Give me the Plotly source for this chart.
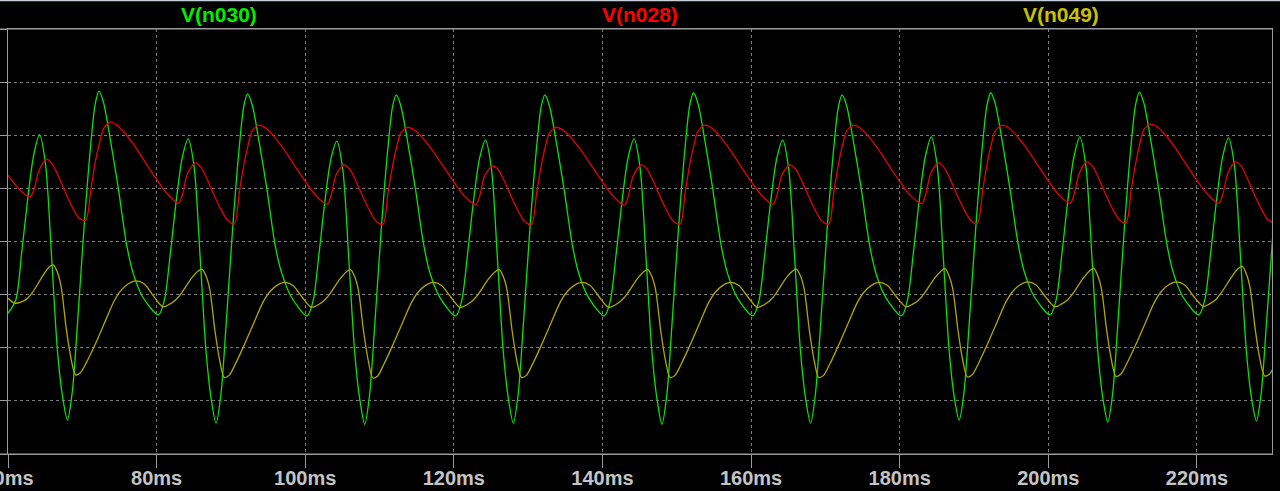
import plotly.graph_objects as go

# ---------------- data (time in ms, value in grid divisions) ----------------
green_t = [
    60.0, 61.05, 61.85, 62.65, 63.45, 64.25, 65.05, 65.85, 66.65, 67.35, 68.0, 68.65, 69.35, 70.25, 71.15, 71.75, 72.25, 72.85, 73.85, 74.85, 75.95, 76.85, 78.15,
    80.25, 81.05, 81.85, 82.65, 83.45, 84.25, 85.05, 85.85, 86.65, 87.35, 88.0, 88.65, 89.35, 90.25, 91.15, 91.75, 92.25, 92.85, 93.85, 94.85, 95.95, 96.85, 98.15,
    100.25, 101.05, 101.85, 102.65, 103.45, 104.25, 105.05, 105.85, 106.65, 107.35, 108.0, 108.65, 109.35, 110.25, 111.15, 111.75, 112.25, 112.85, 113.85, 114.85, 115.95, 116.85, 118.15,
    120.25, 121.05, 121.85, 122.65, 123.45, 124.25, 125.05, 125.85, 126.65, 127.35, 128.0, 128.65, 129.35, 130.25, 131.15, 131.75, 132.25, 132.85, 133.85, 134.85, 135.95, 136.85, 138.15,
    140.25, 141.05, 141.85, 142.65, 143.45, 144.25, 145.05, 145.85, 146.65, 147.35, 148.0, 148.65, 149.35, 150.25, 151.15, 151.75, 152.25, 152.85, 153.85, 154.85, 155.95, 156.85, 158.15,
    160.25, 161.05, 161.85, 162.65, 163.45, 164.25, 165.05, 165.85, 166.65, 167.35, 168.0, 168.65, 169.35, 170.25, 171.15, 171.75, 172.25, 172.85, 173.85, 174.85, 175.95, 176.85, 178.15,
    180.25, 181.05, 181.85, 182.65, 183.45, 184.25, 185.05, 185.85, 186.65, 187.35, 188.0, 188.65, 189.35, 190.25, 191.15, 191.75, 192.25, 192.85, 193.85, 194.85, 195.95, 196.85, 198.15,
    200.25, 201.05, 201.85, 202.65, 203.45, 204.25, 205.05, 205.85, 206.65, 207.35, 208.0, 208.65, 209.35, 210.25, 211.15, 211.75, 212.25, 212.85, 213.85, 214.85, 215.95, 216.85, 218.15,
    220.25, 221.05, 221.85, 222.65, 223.45, 224.25, 225.05, 225.85, 226.65, 227.35, 228.0, 228.65, 229.35, 230.25,
]
green_v = [
    2.65, 2.9, 3.8, 4.8, 5.62, 6.01, 5.45, 3.75, 1.95, 1.07, 0.64, 1.17, 2.45, 4.3, 5.85, 6.6, 6.83, 6.62, 5.85, 5.0, 3.95, 3.4, 2.95,
    2.62, 2.9, 3.78, 4.78, 5.58, 5.93, 5.4, 3.72, 1.93, 1.03, 0.58, 1.12, 2.43, 4.28, 5.82, 6.56, 6.78, 6.58, 5.83, 4.98, 3.93, 3.4, 2.95,
    2.6, 2.88, 3.77, 4.76, 5.55, 5.89, 5.36, 3.7, 1.92, 1.02, 0.56, 1.1, 2.42, 4.27, 5.8, 6.54, 6.76, 6.56, 5.82, 4.97, 3.93, 3.38, 2.94,
    2.6, 2.88, 3.77, 4.77, 5.56, 5.91, 5.38, 3.71, 1.93, 1.03, 0.58, 1.12, 2.43, 4.27, 5.8, 6.54, 6.76, 6.56, 5.82, 4.97, 3.93, 3.38, 2.94,
    2.6, 2.88, 3.78, 4.78, 5.58, 5.93, 5.4, 3.72, 1.93, 1.02, 0.56, 1.1, 2.43, 4.28, 5.82, 6.57, 6.8, 6.6, 5.84, 4.98, 3.94, 3.39, 2.94,
    2.6, 2.88, 3.77, 4.77, 5.56, 5.91, 5.38, 3.71, 1.93, 1.03, 0.58, 1.12, 2.43, 4.27, 5.8, 6.54, 6.76, 6.56, 5.82, 4.97, 3.93, 3.38, 2.94,
    2.6, 2.9, 3.8, 4.8, 5.6, 5.97, 5.42, 3.74, 1.95, 1.06, 0.64, 1.16, 2.45, 4.29, 5.83, 6.57, 6.8, 6.6, 5.84, 4.98, 3.94, 3.39, 2.95,
    2.62, 2.9, 3.8, 4.8, 5.6, 5.97, 5.42, 3.74, 1.94, 1.04, 0.6, 1.13, 2.44, 4.29, 5.84, 6.58, 6.81, 6.61, 5.85, 4.99, 3.95, 3.4, 2.95,
    2.62, 2.9, 3.79, 4.79, 5.59, 5.95, 5.42, 3.73, 1.94, 1.05, 0.62, 1.15, 2.45, 4.2,
]

red_t = [
    60.0, 61.6,
    62.95, 63.5, 64.15, 65.2, 65.95, 66.65, 67.55, 68.45, 69.55, 70.45, 71.15, 71.75, 72.25, 72.85, 73.75, 74.55, 75.35, 76.95, 78.75, 80.45, 81.55,
    82.95, 83.5, 84.15, 85.2, 85.95, 86.65, 87.55, 88.45, 89.55, 90.45, 91.15, 91.75, 92.25, 92.85, 93.75, 94.55, 95.35, 96.95, 98.75, 100.45, 101.55,
    102.95, 103.5, 104.15, 105.2, 105.95, 106.65, 107.55, 108.45, 109.55, 110.45, 111.15, 111.75, 112.25, 112.85, 113.75, 114.55, 115.35, 116.95, 118.75, 120.45, 121.55,
    122.95, 123.5, 124.15, 125.2, 125.95, 126.65, 127.55, 128.45, 129.55, 130.45, 131.15, 131.75, 132.25, 132.85, 133.75, 134.55, 135.35, 136.95, 138.75, 140.45, 141.55,
    142.95, 143.5, 144.15, 145.2, 145.95, 146.65, 147.55, 148.45, 149.55, 150.45, 151.15, 151.75, 152.25, 152.85, 153.75, 154.55, 155.35, 156.95, 158.75, 160.45, 161.55,
    162.95, 163.5, 164.15, 165.2, 165.95, 166.65, 167.55, 168.45, 169.55, 170.45, 171.15, 171.75, 172.25, 172.85, 173.75, 174.55, 175.35, 176.95, 178.75, 180.45, 181.55,
    182.95, 183.5, 184.15, 185.2, 185.95, 186.65, 187.55, 188.45, 189.55, 190.45, 191.15, 191.75, 192.25, 192.85, 193.75, 194.55, 195.35, 196.95, 198.75, 200.45, 201.55,
    202.95, 203.5, 204.15, 205.2, 205.95, 206.65, 207.55, 208.45, 209.55, 210.45, 211.15, 211.75, 212.25, 212.85, 213.75, 214.55, 215.35, 216.95, 218.75, 220.45, 221.55,
    222.95, 223.5, 224.15, 225.2, 225.95, 226.65, 227.55, 228.45, 229.55, 230.45,
]
red_v = [
    5.25, 4.97,
    4.84, 4.98, 5.33, 5.55, 5.46, 5.27, 4.98, 4.7, 4.44, 4.4, 4.98, 5.5, 5.82, 6.12, 6.25, 6.2, 6.1, 5.82, 5.43, 5.08, 4.88,
    4.72, 4.9, 5.28, 5.48, 5.4, 5.22, 4.93, 4.66, 4.4, 4.33, 4.95, 5.45, 5.78, 6.08, 6.19, 6.15, 6.05, 5.77, 5.39, 5.04, 4.85,
    4.7, 4.88, 5.25, 5.44, 5.37, 5.19, 4.91, 4.64, 4.38, 4.32, 4.93, 5.42, 5.75, 6.04, 6.15, 6.11, 6.02, 5.75, 5.38, 5.03, 4.84,
    4.69, 4.87, 5.24, 5.42, 5.36, 5.18, 4.9, 4.63, 4.37, 4.32, 4.93, 5.42, 5.75, 6.04, 6.15, 6.11, 6.02, 5.75, 5.38, 5.03, 4.84,
    4.68, 4.87, 5.24, 5.44, 5.37, 5.19, 4.91, 4.64, 4.38, 4.33, 4.95, 5.45, 5.78, 6.08, 6.19, 6.15, 6.05, 5.77, 5.39, 5.04, 4.85,
    4.7, 4.88, 5.25, 5.44, 5.37, 5.19, 4.91, 4.64, 4.38, 4.33, 4.95, 5.45, 5.78, 6.08, 6.19, 6.15, 6.05, 5.77, 5.39, 5.04, 4.85,
    4.71, 4.89, 5.27, 5.48, 5.4, 5.22, 4.93, 4.66, 4.4, 4.34, 4.95, 5.45, 5.78, 6.08, 6.19, 6.15, 6.05, 5.78, 5.4, 5.05, 4.86,
    4.72, 4.9, 5.28, 5.5, 5.42, 5.23, 4.94, 4.67, 4.41, 4.35, 4.97, 5.47, 5.8, 6.1, 6.21, 6.17, 6.07, 5.79, 5.41, 5.06, 4.87,
    4.72, 4.9, 5.28, 5.5, 5.42, 5.23, 4.94, 4.67, 4.41, 4.35,
]

yellow_t = [
    60.0,
    60.85, 61.75, 62.55, 63.35, 64.65, 65.55, 66.1, 66.65, 67.15, 67.85, 68.45, 69.1, 69.75, 70.55, 71.75, 73.15, 74.25, 75.15, 76.15, 77.25, 78.35, 79.55,
    80.85, 81.75, 82.55, 83.35, 84.65, 85.55, 86.1, 86.65, 87.15, 87.85, 88.45, 89.1, 89.75, 90.55, 91.75, 93.15, 94.25, 95.15, 96.15, 97.25, 98.35, 99.55,
    100.85, 101.75, 102.55, 103.35, 104.65, 105.55, 106.1, 106.65, 107.15, 107.85, 108.45, 109.1, 109.75, 110.55, 111.75, 113.15, 114.25, 115.15, 116.15, 117.25, 118.35, 119.55,
    120.85, 121.75, 122.55, 123.35, 124.65, 125.55, 126.1, 126.65, 127.15, 127.85, 128.45, 129.1, 129.75, 130.55, 131.75, 133.15, 134.25, 135.15, 136.15, 137.25, 138.35, 139.55,
    140.85, 141.75, 142.55, 143.35, 144.65, 145.55, 146.1, 146.65, 147.15, 147.85, 148.45, 149.1, 149.75, 150.55, 151.75, 153.15, 154.25, 155.15, 156.15, 157.25, 158.35, 159.55,
    160.85, 161.75, 162.55, 163.35, 164.65, 165.55, 166.1, 166.65, 167.15, 167.85, 168.45, 169.1, 169.75, 170.55, 171.75, 173.15, 174.25, 175.15, 176.15, 177.25, 178.35, 179.55,
    180.85, 181.75, 182.55, 183.35, 184.65, 185.55, 186.1, 186.65, 187.15, 187.85, 188.45, 189.1, 189.75, 190.55, 191.75, 193.15, 194.25, 195.15, 196.15, 197.25, 198.35, 199.55,
    200.85, 201.75, 202.55, 203.35, 204.65, 205.55, 206.1, 206.65, 207.15, 207.85, 208.45, 209.1, 209.75, 210.55, 211.75, 213.15, 214.25, 215.15, 216.15, 217.25, 218.35, 219.55,
    220.85, 221.75, 222.55, 223.35, 224.65, 225.55, 226.1, 226.65, 227.15, 227.85, 228.45, 229.1, 229.75, 230.55,
]
yellow_v = [
    2.93,
    2.84, 2.86, 2.92, 3.05, 3.35, 3.52, 3.56, 3.42, 3.15, 2.35, 1.82, 1.49, 1.53, 1.72, 2.07, 2.52, 2.87, 3.07, 3.2, 3.26, 3.2, 2.98,
    2.77, 2.82, 2.9, 3.03, 3.3, 3.44, 3.48, 3.35, 3.1, 2.32, 1.79, 1.44, 1.48, 1.68, 2.04, 2.49, 2.84, 3.04, 3.17, 3.23, 3.17, 2.96,
    2.76, 2.81, 2.89, 3.02, 3.29, 3.43, 3.47, 3.34, 3.09, 2.31, 1.78, 1.43, 1.47, 1.68, 2.04, 2.49, 2.84, 3.04, 3.17, 3.23, 3.17, 2.96,
    2.76, 2.81, 2.89, 3.02, 3.29, 3.43, 3.47, 3.34, 3.09, 2.31, 1.78, 1.44, 1.48, 1.68, 2.04, 2.49, 2.84, 3.04, 3.17, 3.23, 3.17, 2.96,
    2.76, 2.81, 2.89, 3.02, 3.29, 3.43, 3.47, 3.34, 3.09, 2.31, 1.78, 1.44, 1.48, 1.68, 2.04, 2.49, 2.84, 3.04, 3.17, 3.23, 3.17, 2.96,
    2.76, 2.81, 2.89, 3.02, 3.3, 3.44, 3.48, 3.35, 3.1, 2.32, 1.79, 1.44, 1.48, 1.68, 2.04, 2.49, 2.84, 3.04, 3.17, 3.23, 3.17, 2.96,
    2.77, 2.82, 2.9, 3.03, 3.3, 3.44, 3.49, 3.35, 3.1, 2.32, 1.79, 1.45, 1.49, 1.69, 2.05, 2.5, 2.85, 3.05, 3.18, 3.24, 3.18, 2.97,
    2.77, 2.82, 2.9, 3.03, 3.3, 3.45, 3.5, 3.36, 3.11, 2.33, 1.8, 1.46, 1.5, 1.7, 2.05, 2.5, 2.85, 3.05, 3.18, 3.24, 3.18, 2.97,
    2.78, 2.83, 2.91, 3.05, 3.33, 3.49, 3.53, 3.39, 3.13, 2.34, 1.8, 1.47, 1.5, 1.7,
]

series_names = ["V(n030)", "V(n028)", "V(n049)"]
line_colors = ["#00e800", "#e80000", "#b0a800"]
label_colors = ["#00ee00", "#ff0000", "#c8c000"]
x_ticks = [60, 80, 100, 120, 140, 160, 180, 200, 220]
x_tick_text = ["60ms", "80ms", "100ms", "120ms", "140ms", "160ms", "180ms", "200ms", "220ms"]

# ---------------- figure ----------------
W, H = 1280, 491
ML, MR, MT, MB = 8, 8, 29, 37
PW = W - ML - MR
PH = H - MT - MB

fig = go.Figure()
for (t, v), name, col in zip([(green_t, green_v), (red_t, red_v), (yellow_t, yellow_v)],
                             series_names, line_colors):
    fig.add_trace(go.Scatter(x=t, y=v, mode="lines", name=name,
                             line=dict(color=col, width=1.3, shape="spline", smoothing=0.8),
                             hoverinfo="skip"))

grid_col = "#7a7a7a"
frame_col = "#9a9a9a"

fig.update_xaxes(range=[60, 230.1], tickvals=x_ticks, ticktext=x_tick_text,
                 showgrid=True, gridcolor=grid_col, griddash="dot", gridwidth=1,
                 ticks="outside", ticklen=13, tickcolor=frame_col, tickwidth=1,
                 ticklabelstandoff=-7, ticklabeloverflow="allow",
                 tickfont=dict(family="Liberation Sans, Arial", size=20, color="#c4c4c4", weight="bold"),
                 showline=True, linecolor=frame_col, linewidth=1, mirror=True,
                 zeroline=False, automargin=False)
fig.update_yaxes(range=[0, 8], dtick=1, tick0=0, showticklabels=False,
                 showgrid=True, gridcolor=grid_col, griddash="dot", gridwidth=1,
                 ticks="outside", ticklen=8, tickcolor=frame_col, tickwidth=1,
                 showline=True, linecolor=frame_col, linewidth=1, mirror=True,
                 zeroline=False, automargin=False)

# legend labels along the top
for i, (name, col) in enumerate(zip(series_names, label_colors)):
    fig.add_annotation(text=f"<b>{name}</b>", x=(2 * i + 1) / 6, y=1 + 14 / PH,
                       xref="paper", yref="paper", xanchor="center", yanchor="middle",
                       showarrow=False,
                       font=dict(family="Liberation Sans, Arial", size=21, color=col))

# frame lines extending to page left edge, and window top border
shapes = [
    dict(type="line", xref="paper", yref="paper", x0=-ML / PW, x1=1, y0=1, y1=1,
         line=dict(color=frame_col, width=1)),
    dict(type="line", xref="paper", yref="paper", x0=-ML / PW, x1=1, y0=0, y1=0,
         line=dict(color=frame_col, width=1)),
    dict(type="line", xref="paper", yref="paper", x0=-ML / PW, x1=1 + MR / PW,
         y0=1 + (MT - 0.5) / PH, y1=1 + (MT - 0.5) / PH,
         line=dict(color="#c8d0dc", width=1.5)),
]
fig.update_layout(width=W, height=H, margin=dict(l=ML, r=MR, t=MT, b=MB, pad=0),
                  paper_bgcolor="black", plot_bgcolor="black",
                  showlegend=False, shapes=shapes)

# remove the default page margin so the figure sits at the window's top-left corner
fig.write_html("out.html", config={"displayModeBar": False},
               post_script="document.body.style.margin='0px';document.body.style.background='black';")
